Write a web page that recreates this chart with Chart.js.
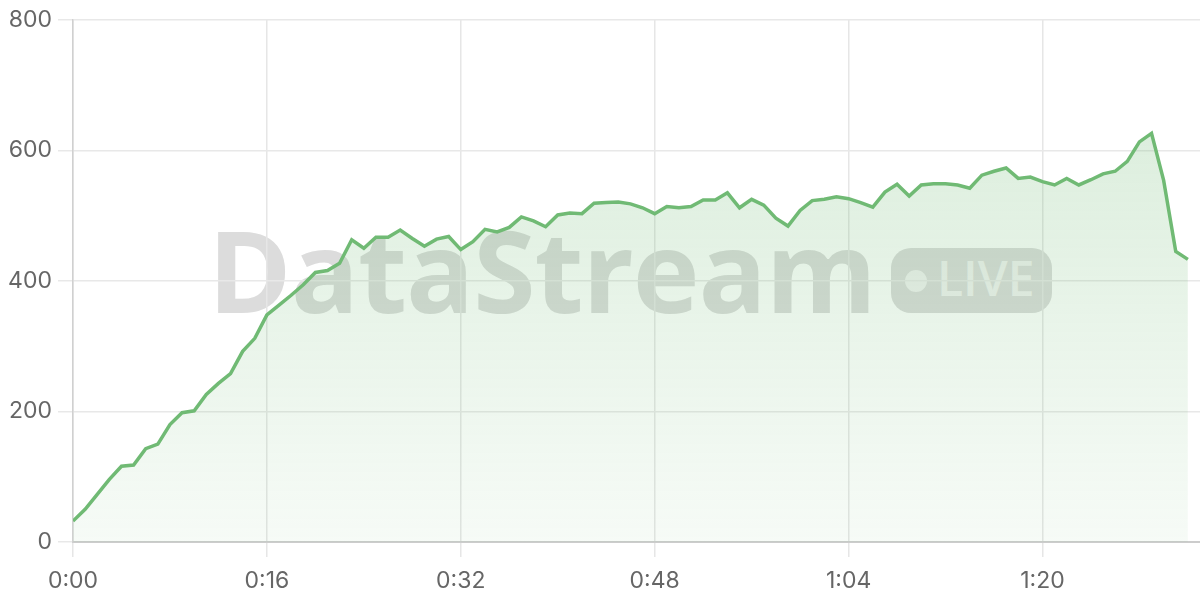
<!DOCTYPE html>
<html>
<head>
<meta charset="utf-8">
<script src="https://cdn.jsdelivr.net/npm/chart.js@4.4.1/dist/chart.umd.min.js"></script>
<style>
    body { margin: 0; background: #fff; }
    #wrap { position: relative; width: 1200px; height: 600px; overflow: hidden; }
    #chart { position: relative; z-index: 1; }
    .wm { position: absolute; z-index: 0; font-family: "Open Sans", sans-serif; line-height: 1; white-space: nowrap; }
    #wm-title { left: 208px; top: 213px; font-size: 113px; font-weight: 700; color: #dcdcdc; letter-spacing: -1px; }
    #wm-badge { left: 891px; top: 248px; width: 161px; height: 65px; border-radius: 20px; background: #dcdcdc; }
    #wm-dot { left: 905px; top: 270px; width: 22px; height: 22px; border-radius: 50%; background: #f2f2f2; }
    #wm-live { left: 937px; top: 254px; font-size: 48px; font-weight: 600; color: #f2f2f2; }
</style>
</head>
<body>
<div id="wrap">
    <div class="wm" id="wm-title">DataStream</div>
    <div class="wm" id="wm-badge"></div>
    <div class="wm" id="wm-dot"></div>
    <div class="wm" id="wm-live">LIVE</div>
    <canvas id="chart" width="1200" height="600"></canvas>
</div>
<script>
// values per second
const values = [
    32, 50, 73, 96, 116, 118, 143, 150, 180, 198,
    201, 226, 243, 258, 292, 312, 348, 363, 378, 394,
    413, 416, 427, 463, 450, 467, 467, 478, 465, 453,
    464, 468, 448, 460, 479, 475, 482, 498, 492, 483,
    501, 504, 503, 519, 520, 521, 518, 512, 503, 514,
    512, 514, 524, 524, 535, 512, 525, 516, 496, 484,
    508, 523, 525, 529, 526, 520, 513, 536, 548, 530,
    547, 549, 549, 547, 542, 562, 568, 573, 557, 559,
    552, 547, 557, 547, 555, 564, 568, 583, 613, 626,
    554, 445, 433
];
const xMax = 93;
const xStep = 16;
const yMax = 800;
const yStep = 200;

function formatTime(sec) {
    const m = Math.floor(sec / 60);
    const s = sec % 60;
    return `${m}:${String(s).padStart(2, '0')}`;
}

const tickFont = { family: 'Inter, "Noto Sans", sans-serif', size: 23 };

const ctx = document.getElementById('chart').getContext('2d');
new Chart(ctx, {
    type: 'line',
    data: {
        datasets: [{
            data: values.map((v, i) => ({ x: i, y: v })),
            borderColor: '#70ba74',
            borderWidth: 3.5,
            pointRadius: 0,
            tension: 0,
            fill: 'origin',
            backgroundColor: (c) => {
                const area = c.chart.chartArea;
                if (!area) return 'rgba(108,184,112,0.15)';
                const g = c.chart.ctx.createLinearGradient(0, area.top, 0, area.bottom);
                g.addColorStop(0, 'rgba(108,184,112,0.28)');
                g.addColorStop(1, 'rgba(108,184,112,0.06)');
                return g;
            }
        }]
    },
    options: {
        responsive: false,
        animation: false,
        layout: { padding: { top: 19, right: 0, left: 0, bottom: 0 } },
        plugins: {
            legend: { display: false },
            tooltip: { enabled: false }
        },
        scales: {
            x: {
                type: 'linear',
                min: 0,
                max: xMax,
                afterFit: (scale) => { scale.height = 58; },
                ticks: {
                    stepSize: xStep,
                    includeBounds: false,
                    padding: 10,
                    color: '#666',
                    font: tickFont,
                    callback: (v) => formatTime(v)
                },
                grid: { color: '#e6e6e6', lineWidth: 1.5, tickLength: 15 },
                border: { color: '#cccccc', width: 2 }
            },
            y: {
                min: 0,
                max: yMax,
                afterFit: (scale) => { scale.width = 73; },
                ticks: {
                    stepSize: yStep,
                    padding: 6,
                    color: '#666',
                    font: tickFont
                },
                grid: { color: '#e8e8e8', lineWidth: 1.5, tickLength: 15 },
                border: { color: '#d0d0d0', width: 1.5 }
            }
        }
    }
});
</script>
</body>
</html>
